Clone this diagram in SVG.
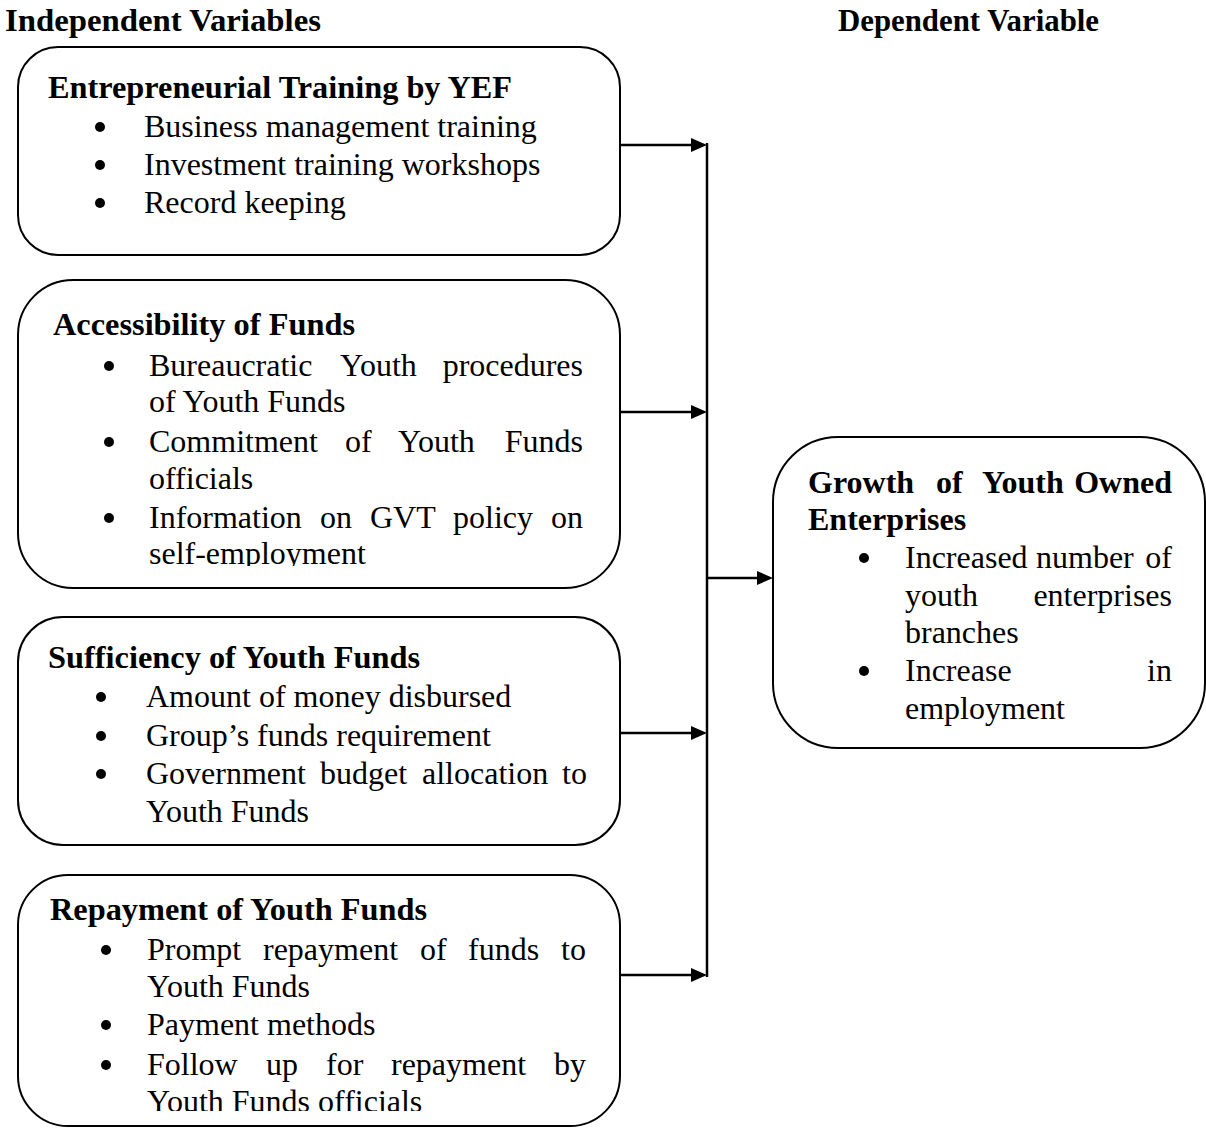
<svg xmlns="http://www.w3.org/2000/svg" width="1206" height="1128" viewBox="0 0 1206 1128">
<style>
text{font-family:"Liberation Serif","Times New Roman",serif;font-size:32px;fill:#000}
.b{font-weight:bold}
.e{text-anchor:end}
.box{fill:#fff;stroke:#000;stroke-width:2}
.con{stroke:#000;stroke-width:2.5;fill:none}
.dot{fill:#000}
</style>
<defs>
<marker id="ah" markerUnits="userSpaceOnUse" markerWidth="16" markerHeight="14" refX="8" refY="7" orient="auto">
<path d="M0,0 L16,7 L0,14 z" fill="#000"/>
</marker>
<clipPath id="c2"><rect x="0" y="530" width="700" height="36"/></clipPath>
<clipPath id="c4"><rect x="0" y="1080" width="700" height="31"/></clipPath>
</defs>
<rect width="1206" height="1128" fill="#fff"/>
<g id="headers">
<text class="b" x="5" y="31" textLength="316" lengthAdjust="spacingAndGlyphs">Independent Variables</text>
<text class="b" x="838" y="31" textLength="261" lengthAdjust="spacingAndGlyphs">Dependent Variable</text>
</g>
<g id="connectors">
<line class="con" x1="707" y1="143" x2="707" y2="977"/>
<line class="con" x1="620" y1="145" x2="699" y2="145" marker-end="url(#ah)"/>
<line class="con" x1="620" y1="412" x2="699" y2="412" marker-end="url(#ah)"/>
<line class="con" x1="620" y1="733" x2="699" y2="733" marker-end="url(#ah)"/>
<line class="con" x1="620" y1="975" x2="699" y2="975" marker-end="url(#ah)"/>
<line class="con" x1="707" y1="578" x2="765" y2="578" marker-end="url(#ah)"/>
</g>
<g id="n1">
<rect class="box" x="18" y="47" width="602" height="208" rx="40"/>
<text class="b" x="48" y="98" textLength="464" lengthAdjust="spacingAndGlyphs">Entrepreneurial Training by YEF</text>
<circle class="dot" cx="100" cy="127" r="5"/>
<circle class="dot" cx="100" cy="165" r="5"/>
<circle class="dot" cx="100" cy="203" r="5"/>
<text x="144" y="137">Business management training</text>
<text x="144" y="175">Investment training workshops</text>
<text x="144" y="213">Record keeping</text>
</g>
<g id="n2">
<rect class="box" x="18" y="280" width="602" height="308" rx="55"/>
<text class="b" x="53" y="335" textLength="302" lengthAdjust="spacingAndGlyphs">Accessibility of Funds</text>
<circle class="dot" cx="109" cy="366" r="5"/>
<circle class="dot" cx="109" cy="442" r="5"/>
<circle class="dot" cx="109" cy="518" r="5"/>
<text x="149" y="376">Bureaucratic</text><text x="340" y="376">Youth</text><text class="e" x="583" y="376">procedures</text>
<text x="149" y="412">of Youth Funds</text>
<text x="149" y="452">Commitment</text><text x="345" y="452">of</text><text x="398" y="452">Youth</text><text class="e" x="583" y="452">Funds</text>
<text x="149" y="489">officials</text>
<text x="149" y="528">Information</text><text x="320" y="528">on</text><text x="370" y="528">GVT</text><text x="453" y="528">policy</text><text class="e" x="583" y="528">on</text>
<text x="149" y="564" clip-path="url(#c2)">self-employment</text>
</g>
<g id="n3">
<rect class="box" x="18" y="617" width="602" height="228" rx="45"/>
<text class="b" x="48" y="668" textLength="372" lengthAdjust="spacingAndGlyphs">Sufficiency of Youth Funds</text>
<circle class="dot" cx="101" cy="697" r="5"/>
<circle class="dot" cx="101" cy="736" r="5"/>
<circle class="dot" cx="101" cy="774" r="5"/>
<text x="146" y="707">Amount of money disbursed</text>
<text x="146" y="746">Group’s funds requirement</text>
<text x="146" y="784">Government</text><text x="320" y="784">budget</text><text x="422" y="784">allocation</text><text class="e" x="587" y="784">to</text>
<text x="146" y="822">Youth Funds</text>
</g>
<g id="n4">
<rect class="box" x="18" y="875" width="602" height="251" rx="50"/>
<text class="b" x="50" y="920" textLength="377" lengthAdjust="spacingAndGlyphs">Repayment of Youth Funds</text>
<circle class="dot" cx="106" cy="950" r="5"/>
<circle class="dot" cx="106" cy="1025" r="5"/>
<circle class="dot" cx="106" cy="1065" r="5"/>
<text x="147" y="960">Prompt</text><text x="263" y="960">repayment</text><text x="420" y="960">of</text><text x="468" y="960">funds</text><text class="e" x="586" y="960">to</text>
<text x="147" y="997">Youth Funds</text>
<text x="147" y="1035">Payment methods</text>
<text x="147" y="1075">Follow</text><text x="266" y="1075">up</text><text x="326" y="1075">for</text><text x="391" y="1075">repayment</text><text class="e" x="586" y="1075">by</text>
<text x="147" y="1112" clip-path="url(#c4)">Youth Funds officials</text>
</g>
<g id="n5">
<rect class="box" x="773" y="437" width="432" height="311" rx="65"/>
<text class="b" x="808" y="493">Growth</text><text class="b" x="936" y="493">of</text><text class="b" x="982" y="493">Youth</text><text class="b e" x="1172" y="493">Owned</text>
<text class="b" x="808" y="530">Enterprises</text>
<circle class="dot" cx="864" cy="558" r="5"/>
<circle class="dot" cx="864" cy="671" r="5"/>
<text x="905" y="568">Increased</text><text x="1036" y="568">number</text><text class="e" x="1172" y="568">of</text>
<text x="905" y="606">youth</text><text class="e" x="1172" y="606">enterprises</text>
<text x="905" y="643">branches</text>
<text x="905" y="681">Increase</text><text class="e" x="1172" y="681">in</text>
<text x="905" y="719">employment</text>
</g>
</svg>
